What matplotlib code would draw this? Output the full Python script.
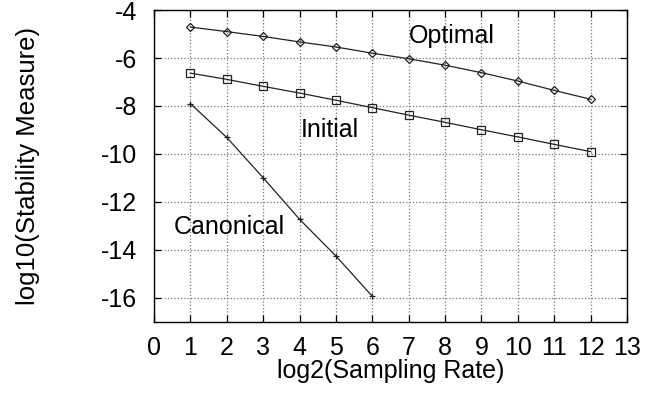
import numpy as np
import matplotlib
matplotlib.use("Agg")
import matplotlib.pyplot as plt

plt.rcParams["font.family"] = ["Liberation Sans", "DejaVu Sans"]
plt.rcParams["axes.unicode_minus"] = False

sampling = [1, 2, 3, 4, 5, 6, 7, 8, 9, 10, 11, 12]
optimal = [-4.71, -4.90, -5.10, -5.33, -5.54, -5.80, -6.03, -6.30, -6.61, -6.96, -7.35, -7.72]
initial = [-6.63, -6.89, -7.18, -7.46, -7.76, -8.07, -8.38, -8.68, -8.99, -9.29, -9.60, -9.90]
canonical_x = [1, 2, 3, 4, 5, 6]
canonical = [-7.90, -9.31, -10.99, -12.72, -14.25, -15.93]

xticks = list(range(0, 14))
yticks = [-16, -14, -12, -10, -8, -6, -4]

fig = plt.figure(figsize=(6.6, 3.96), dpi=100)
ax = fig.add_axes([0.2333, 0.187, 0.7167, 0.7877])

line_kw = dict(color="#222222", linewidth=0.9, markerfacecolor="none",
               markeredgecolor="#222222", markeredgewidth=0.9)
ax.plot(sampling, optimal, marker="D", markersize=4, **line_kw)
ax.plot(sampling, initial, marker="s", markersize=6, **line_kw)
ax.plot(canonical_x, canonical, marker="+", markersize=5, **line_kw)

ax.text(8.18, -5.08, "Optimal", fontsize=18, ha="center", va="center")
ax.text(4.84, -9.0, "Initial", fontsize=18, ha="center", va="center")
ax.text(2.06, -13.03, "Canonical", fontsize=18, ha="center", va="center")

ax.set_xlim(0, 13)
ax.set_ylim(-17, -4)
ax.set_xticks(xticks)
ax.set_yticks(yticks)
ax.tick_params(direction="in", top=True, right=True, length=5, width=0.9,
               labelsize=18)
ax.tick_params(axis="x", pad=10)
ax.tick_params(axis="y", pad=12)
ax.grid(True, linestyle=":", color="#777777", linewidth=0.9)

for spine in ax.spines.values():
    spine.set_linewidth(1.0)

ax.set_xlabel("log2(Sampling Rate)", fontsize=18)
ax.set_ylabel("log10(Stability Measure)", fontsize=18.5)
ax.xaxis.set_label_coords(0.5, -0.12)
ax.yaxis.set_label_coords(-0.242, 0.5)

fig.savefig("out.png", dpi=100)
plt.close()
